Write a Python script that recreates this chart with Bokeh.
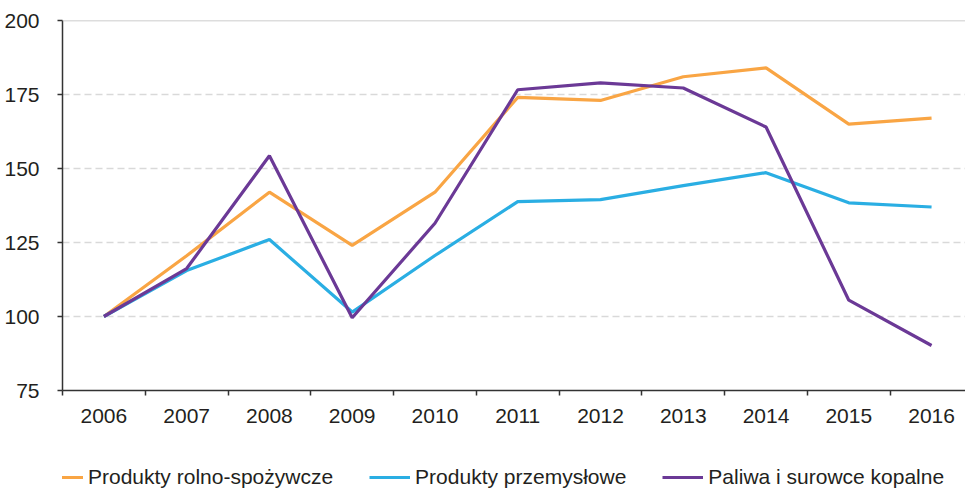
from bokeh.plotting import figure
from bokeh.layouts import column
from bokeh.models import FixedTicker, Legend, LegendItem, Span
from bokeh.embed import file_html
from bokeh.resources import INLINE

years = [2006, 2007, 2008, 2009, 2010, 2011, 2012, 2013, 2014, 2015, 2016]
year_labels = [str(y) for y in years]
rolno = [100, 120.5, 142, 124, 142, 174, 173, 181, 184, 165, 167]
przem = [100, 115.5, 126, 101.5, 120.6, 138.8, 139.5, 144.2, 148.6, 138.4, 137]
paliwa = [100, 116.2, 154.3, 99.6, 131.5, 176.6, 178.9, 177.2, 164, 105.5, 90.2]
names = ["Produkty rolno-spożywcze", "Produkty przemysłowe", "Paliwa i surowce kopalne"]
colors = ["#F9A544", "#2AAEE3", "#6B3996"]
y_ticks = [75, 100, 125, 150, 175, 200]

FONT = "Liberation Sans"
W = 965

p = figure(width=W, height=438, output_backend="svg", toolbar_location=None,
           x_range=(2005.5, 2016.41), y_range=(75, 200),
           min_border_left=62, min_border_top=20, min_border_right=0, min_border_bottom=48)
p.outline_line_color = None
p.background_fill_color = "white"

p.xaxis.ticker = FixedTicker(ticks=years, minor_ticks=[y - 0.5 for y in years] + [years[-1] + 0.5])
p.xaxis.major_label_overrides = {y: lab for y, lab in zip(years, year_labels)}
p.xaxis.major_tick_out = 0
p.xaxis.major_tick_in = 0
p.xaxis.minor_tick_out = 5
p.xaxis.minor_tick_in = 0
p.xaxis.minor_tick_line_color = "#333333"
p.xaxis.minor_tick_line_width = 1.5
p.xaxis.major_label_standoff = 13

p.yaxis.ticker = FixedTicker(ticks=y_ticks, minor_ticks=[])
p.yaxis.major_tick_out = 5
p.yaxis.major_tick_in = 0
p.yaxis.major_label_standoff = 18

for ax in (p.xaxis, p.yaxis):
    ax.axis_line_color = "#333333"
    ax.axis_line_width = 1.5
    ax.major_tick_line_color = "#333333"
    ax.major_tick_line_width = 1.5
    ax.major_label_text_font = FONT
    ax.major_label_text_font_size = "21px"
    ax.major_label_text_color = "#231F20"

p.xgrid.grid_line_color = None
p.ygrid.ticker = FixedTicker(ticks=[100, 125, 150, 175])
p.ygrid.grid_line_color = "#D9D9D9"
p.ygrid.grid_line_width = 1.5
p.ygrid.grid_line_dash = "7 4"

p.add_layout(Span(location=200, dimension="width", line_color="#BBBBBB", line_width=1.5))

for vals, col in zip([rolno, przem, paliwa], colors):
    p.line(years, vals, line_color=col, line_width=3.2)

# legend strip below the chart (its frame is aligned with the chart frame)
lg = figure(width=W, height=51, output_backend="svg", toolbar_location=None,
            x_axis_type=None, y_axis_type=None, min_border=0,
            x_range=(0, 1), y_range=(0, 1))
lg.outline_line_color = None
lg.xgrid.visible = False
lg.ygrid.visible = False
items = []
for name, col in zip(names, colors):
    # line kept outside the visible range: only its legend swatch shows
    r = lg.line(x=[5, 6], y=[5, 6], line_color=col, line_width=3.2)
    items.append(LegendItem(label=name, renderers=[r]))
legend = Legend(items=items, orientation="horizontal", location=(-20, 0),
                label_text_font=FONT, label_text_font_size="21px", label_text_color="#231F20",
                glyph_width=41, glyph_height=20, label_standoff=5, spacing=36,
                padding=0, margin=0, border_line_color=None, background_fill_alpha=0)
lg.add_layout(legend, "center")

layout = column(p, lg, spacing=0)
open("out.html", "w").write(file_html(layout, INLINE))
